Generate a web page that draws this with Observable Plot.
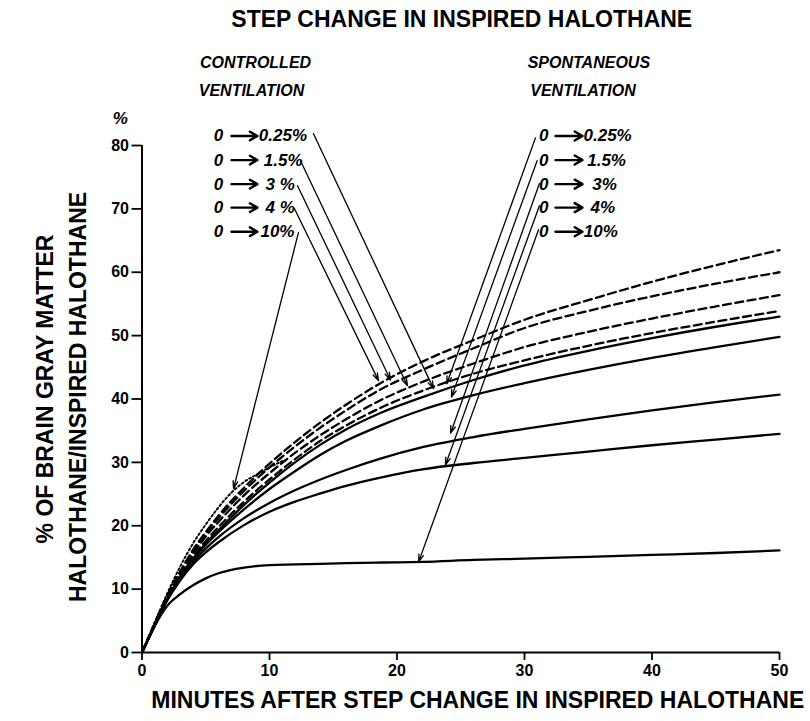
<!DOCTYPE html>
<html>
<head>
<meta charset="utf-8">
<script src="https://cdn.jsdelivr.net/npm/d3@7"></script>
<script src="https://cdn.jsdelivr.net/npm/@observablehq/plot@0.6"></script>
<style>
  html, body { margin: 0; padding: 0; background: #fff; }
  #chart svg [aria-label*="axis"] line,
  #chart svg [aria-label*="axis"] path { stroke-width: 1.8px; }
</style>
</head>
<body>
<div id="chart"></div>
<script>
// ---- data ----
const minutes = [0, 1, 2, 3, 4, 5, 6, 8, 10, 12, 14, 16, 18.7, 22, 26, 30, 35, 40, 45, 50];

// Spontaneous ventilation (solid)
const spont025 = [0, 4.3, 8.5, 12.0, 14.8, 17.2, 19.3, 23.3, 26.8, 30.0, 32.8, 35.2, 37.8, 40.3, 43.0, 45.3, 47.6, 49.6, 51.4, 53.0];
const spont15  = [0, 4.3, 8.5, 12.0, 14.7, 17.0, 19.0, 22.6, 25.8, 28.6, 31.2, 33.4, 35.8, 38.3, 40.6, 42.5, 44.6, 46.5, 48.2, 49.8];
const spont3   = [0, 4.3, 8.4, 11.7, 14.3, 16.4, 18.2, 21.2, 23.6, 25.6, 27.3, 28.8, 30.6, 32.4, 34.0, 35.3, 36.8, 38.2, 39.5, 40.7];
const spont4   = [0, 4.3, 8.3, 11.4, 13.9, 15.8, 17.4, 20.1, 22.2, 23.8, 25.1, 26.3, 27.6, 28.9, 29.9, 30.7, 31.7, 32.7, 33.6, 34.5];
const spont10  = [0, 4.2, 7.4, 9.2, 10.6, 11.7, 12.5, 13.4, 13.8, 13.9, 14.0, 14.1, 14.2, 14.3, 14.6, 14.8, 15.1, 15.4, 15.7, 16.1];

// Controlled ventilation (dashed)
const ctrl025 = [0, 4.4, 8.7, 12.2, 15.2, 17.6, 19.8, 23.8, 27.3, 30.5, 33.4, 35.8, 38.6, 41.3, 44.0, 46.1, 48.4, 50.4, 52.2, 53.9];
const ctrl15  = [0, 4.5, 8.9, 12.5, 15.6, 18.3, 20.6, 24.8, 28.3, 31.5, 34.3, 36.8, 39.8, 42.7, 45.6, 48.2, 50.6, 52.7, 54.6, 56.4];
const ctrl3   = [0, 4.6, 9.0, 12.7, 16.0, 18.7, 21.2, 25.5, 29.2, 32.5, 35.5, 38.2, 41.5, 44.6, 48.0, 51.2, 53.9, 56.2, 58.2, 60.0];
const ctrl4   = [0, 4.6, 9.0, 12.8, 16.2, 19.0, 21.6, 26.0, 29.8, 33.2, 36.3, 39.1, 42.5, 45.9, 49.3, 52.5, 55.6, 58.5, 61.1, 63.5];
// Controlled ventilation 0 -> 10% (dotted, short)
const ctrl10Minutes = [0, 1, 2, 3, 4, 5, 6, 7, 8, 9, 10, 11];
const ctrl10 = [0, 4.8, 9.4, 13.6, 17.2, 20.2, 22.9, 25.2, 26.9, 28.1, 29.2, 30.2];

// ticks
const xTicks = [0, 10, 20, 30, 40, 50];
const yTicks = [0, 10, 20, 30, 40, 50, 60, 70, 80];

// labels
const stepLabels = ["0.25%", "1.5%", "3 %", "4 %", "10%"];
const stepLabelsSpont = ["0.25%", "1.5%", "3%", "4%", "10%"];
const labelY = [81.5, 77.7, 73.9, 70.2, 66.4];
const ctrlValueX = [9.16, 9.55, 9.69, 9.69, 9.29];
const spontValueX = [34.63, 34.92, 35.31, 35.18, 34.65];

// leader arrows (from label to curve), in data units
const ctrlArrowFromX = [13.45, 12.43, 12.2, 11.96, 12.27];
const ctrlArrowFromY = [81.86, 77.6, 73.66, 70.03, 66.25];
const ctrlArrowToX   = [22.86, 20.82, 19.49, 18.55, 7.18];
const ctrlArrowToY   = [41.64, 42.1, 43.0, 42.9, 25.87];
const spontArrowFromX = [30.86, 30.99, 31.17, 31.17, 31.1];
const spontArrowFromY = [81.2, 77.6, 74.0, 70.5, 66.7];
const spontArrowToX   = [23.9, 24.27, 24.2, 23.8, 21.7];
const spontArrowToY   = [42.4, 40.3, 34.6, 29.6, 14.3];

// ---- build tables ----
const toRows = (xs, ys, key) => xs.map((x, i) => ({x, y: ys[i], key}));
const solidRows = [
  ...toRows(minutes, spont025, "s025"),
  ...toRows(minutes, spont15, "s15"),
  ...toRows(minutes, spont3, "s3"),
  ...toRows(minutes, spont4, "s4"),
  ...toRows(minutes, spont10, "s10")
];
const dashedRows = [
  ...toRows(minutes, ctrl025, "c025"),
  ...toRows(minutes, ctrl15, "c15"),
  ...toRows(minutes, ctrl3, "c3"),
  ...toRows(minutes, ctrl4, "c4")
];
const dottedRows = toRows(ctrl10Minutes, ctrl10, "c10");

const leaders = [
  ...ctrlArrowFromX.map((v, i) => ({x1: v, y1: ctrlArrowFromY[i], x2: ctrlArrowToX[i], y2: ctrlArrowToY[i]})),
  ...spontArrowFromX.map((v, i) => ({x1: v, y1: spontArrowFromY[i], x2: spontArrowToX[i], y2: spontArrowToY[i]}))
];
const ctrlLabels = stepLabels.map((t, i) => ({t, x: ctrlValueX[i], y: labelY[i]}));
const spontLabels = stepLabelsSpont.map((t, i) => ({t, x: spontValueX[i], y: labelY[i]}));
const zeros = [
  ...labelY.map(y => ({x: 6.0, y})),
  ...labelY.map(y => ({x: 31.5, y}))
];
const smallArrows = [
  ...labelY.map(y => ({x1: 7.02, x2: 9.05, y})),
  ...labelY.map(y => ({x1: 32.43, x2: 34.55, y}))
];
const headers = [
  {t: "CONTROLLED", x: 4.55, y: 93.0},
  {t: "VENTILATION", x: 4.45, y: 88.6},
  {t: "SPONTANEOUS", x: 30.25, y: 93.0},
  {t: "VENTILATION", x: 30.45, y: 88.6}
];

const italic = {fontStyle: "italic", fontWeight: "bold", fontFamily: "'Liberation Sans', Arial, sans-serif"};

const chart = Plot.plot({
  width: 810,
  height: 721,
  marginLeft: 141.5,
  marginRight: 31,
  marginTop: 145,
  marginBottom: 69,
  style: {fontFamily: "'Liberation Sans', Arial, sans-serif", fontSize: "16px", fontWeight: "bold", background: "#fff", color: "#000", overflow: "visible"},
  x: {domain: [0, 50], ticks: xTicks, tickSize: 8, tickPadding: 4, label: null},
  y: {domain: [0, 80], ticks: yTicks, tickSize: 10, tickPadding: 3, label: null},
  marks: [
    Plot.ruleX([0], {strokeWidth: 2}),
    Plot.ruleY([0], {strokeWidth: 2}),
    Plot.line(solidRows, {x: "x", y: "y", z: "key", stroke: "#000", strokeWidth: 2.3, curve: "monotone-x"}),
    Plot.line(dashedRows, {x: "x", y: "y", z: "key", stroke: "#000", strokeWidth: 2.3, strokeDasharray: "8,4.5", curve: "monotone-x"}),
    Plot.line(dottedRows, {x: "x", y: "y", z: "key", stroke: "#000", strokeWidth: 1.9, strokeDasharray: "2,2.5", curve: "monotone-x"}),
    Plot.arrow(leaders, {x1: "x1", y1: "y1", x2: "x2", y2: "y2", stroke: "#000", strokeWidth: 1.3, headLength: 9, headAngle: 35}),
    Plot.arrow(smallArrows, {x1: "x1", y1: "y", x2: "x2", y2: "y", stroke: "#000", strokeWidth: 2.4, headLength: 7, headAngle: 60}),
    Plot.text(zeros, {x: "x", y: "y", text: () => "0", fontSize: 17, ...italic, textAnchor: "middle"}),
    Plot.text(ctrlLabels, {x: "x", y: "y", text: "t", fontSize: 17, ...italic, textAnchor: "start"}),
    Plot.text(spontLabels, {x: "x", y: "y", text: "t", fontSize: 17, ...italic, textAnchor: "start"}),
    Plot.text(headers, {x: "x", y: "y", text: "t", fontSize: 16, ...italic, textAnchor: "start"}),
    Plot.text(["%"], {x: -1.7, y: 84.3, text: d => d, fontSize: 17, ...italic, textAnchor: "middle"}),
    // title
    Plot.text(["STEP CHANGE IN INSPIRED HALOTHANE"], {frameAnchor: "top", dx: 1, dy: -126, text: d => d, fontSize: 23, fontWeight: "bold", textAnchor: "middle", lineAnchor: "middle"}),
    // x axis label
    Plot.text(["MINUTES AFTER STEP CHANGE IN INSPIRED HALOTHANE"], {frameAnchor: "bottom", dx: 17, dy: 48, text: d => d, fontSize: 23, fontWeight: "bold", textAnchor: "middle", lineAnchor: "middle"}),
    // y axis labels
    Plot.text(["% OF BRAIN GRAY MATTER"], {frameAnchor: "left", dx: -96.5, dy: -10, rotate: -90, text: d => d, fontSize: 23, fontWeight: "bold", textAnchor: "middle", lineAnchor: "middle"}),
    Plot.text(["HALOTHANE/INSPIRED HALOTHANE"], {frameAnchor: "left", dx: -63.5, dy: -2, rotate: -90, text: d => d, fontSize: 23, fontWeight: "bold", textAnchor: "middle", lineAnchor: "middle"})
  ]
});
document.getElementById("chart").appendChild(chart);
</script>
</body>
</html>
